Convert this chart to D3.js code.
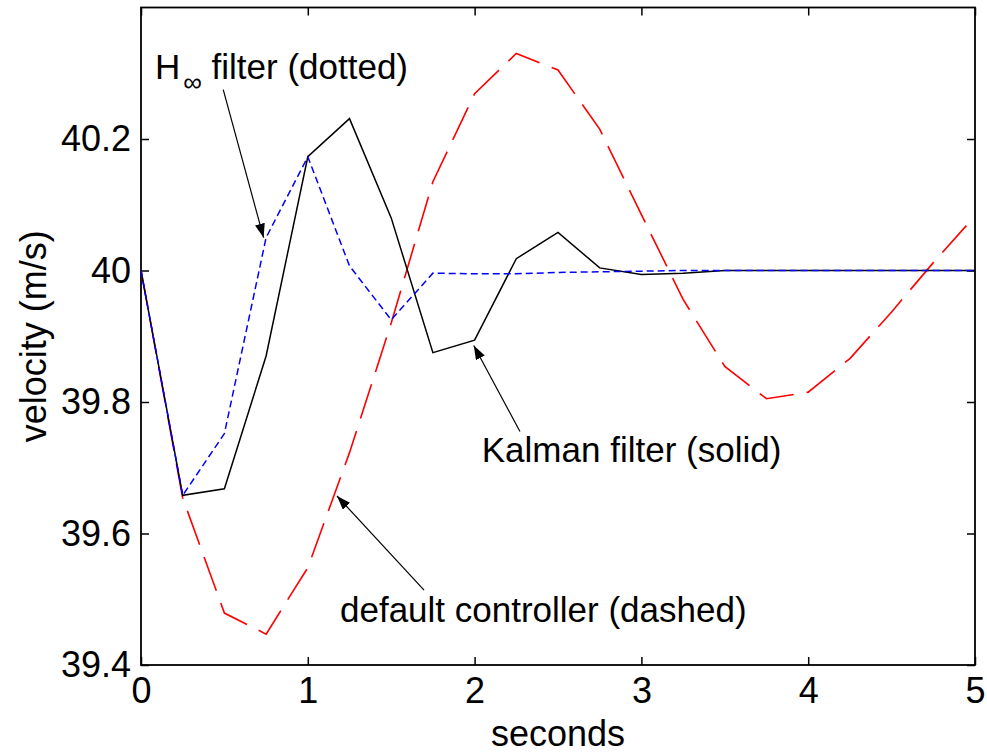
<!DOCTYPE html>
<html>
<head>
<meta charset="utf-8">
<script src="https://cdn.jsdelivr.net/npm/d3@7"></script>
<style>
  html, body { margin: 0; padding: 0; background: #fff; }
  svg { display: block; }
  text { font-family: "Liberation Sans", Arial, sans-serif; fill: #000; }
</style>
</head>
<body>
<svg id="chart" width="987" height="755"></svg>
<script>
// ---- data ----
const time = [0, 0.25, 0.5, 0.75, 1.0, 1.25, 1.5, 1.75, 2.0, 2.25, 2.5, 2.75, 3.0, 3.25, 3.5, 3.75, 4.0, 4.25, 4.5, 4.75, 5.0];
const kalman = [40.0, 39.658, 39.668, 39.87, 40.173, 40.231, 40.08, 39.875, 39.894, 40.018, 40.058, 40.004, 39.994, 39.996, 40.0, 40.0, 40.0, 40.0, 40.0, 40.0, 40.0];
const hinf = [40.0, 39.658, 39.752, 40.05, 40.173, 40.007, 39.925, 39.996, 39.995, 39.995, 39.997, 39.998, 39.999, 40.0, 40.0, 40.0, 40.0, 40.0, 40.0, 40.0, 40.0];
const controller = [40.0, 39.654, 39.479, 39.447, 39.548, 39.723, 39.92, 40.135, 40.269, 40.33, 40.305, 40.215, 40.085, 39.956, 39.854, 39.805, 39.815, 39.866, 39.937, 40.012, 40.083];
const xTicks = [0, 1, 2, 3, 4, 5];
const yTicks = [39.4, 39.6, 39.8, 40, 40.2];
const xDomain = [0, 5];
const yDomain = [39.4, 40.4];
const xTitle = "seconds";
const yTitle = "velocity (m/s)";
// annotations in data units: text anchor, arrow start, arrow tip
const labelHinf = {main: "H", sub: "\u221E", rest: " filter (dotted)", x: 0.084, y: 40.292};
const labelKalman = {text: "Kalman filter (solid)", x: 2.043, y: 39.708};
const labelCtrl = {text: "default controller (dashed)", x: 1.193, y: 39.465};
const arrows = [
  {x1: 0.493, y1: 40.275, x2: 0.735, y2: 40.05},
  {x1: 2.272, y1: 39.755, x2: 1.995, y2: 39.886},
  {x1: 1.697, y1: 39.514, x2: 1.175, y2: 39.657}
];

// ---- layout ----
const L = 141, R = 975, T = 7.5, B = 665;
const svg = d3.select("#chart");
const x = d3.scaleLinear().domain(xDomain).range([L, R]);
const y = d3.scaleLinear().domain(yDomain).range([B, T]);

svg.append("rect").attr("width", 987).attr("height", 755).attr("fill", "#fff");

const defs = svg.append("defs");
defs.append("clipPath").attr("id", "clip")
  .append("rect").attr("x", L).attr("y", T).attr("width", R - L).attr("height", B - T);
defs.append("marker").attr("id", "arrowhead")
  .attr("viewBox", "0 0 14 10").attr("refX", 14).attr("refY", 5)
  .attr("markerWidth", 14).attr("markerHeight", 10)
  .attr("markerUnits", "userSpaceOnUse").attr("orient", "auto")
  .append("path").attr("d", "M0,0 L14,5 L0,10 Z").attr("fill", "#000");

// axes with inward ticks on all four sides
const tickLen = 8;
const fontSize = 36;
const gx = svg.append("g").attr("transform", `translate(0,${B})`)
  .call(d3.axisBottom(x).tickValues(xTicks).tickFormat(d3.format("d")).tickSize(-tickLen).tickPadding(12));
const gxTop = svg.append("g").attr("transform", `translate(0,${T})`)
  .call(d3.axisTop(x).tickValues(xTicks).tickFormat("").tickSize(-tickLen));
const gy = svg.append("g").attr("transform", `translate(${L},0)`)
  .call(d3.axisLeft(y).tickValues(yTicks).tickFormat(d => String(+d.toFixed(1))).tickSize(-tickLen).tickPadding(10));
const gyRight = svg.append("g").attr("transform", `translate(${R},0)`)
  .call(d3.axisRight(y).tickValues(yTicks).tickFormat("").tickSize(-tickLen));

[gx, gxTop, gy, gyRight].forEach(g => {
  g.select(".domain").remove();
  g.selectAll(".tick line").attr("stroke", "#000").attr("stroke-width", 1.5);
  g.selectAll(".tick text").attr("font-size", fontSize).attr("font-family", "Liberation Sans, Arial, sans-serif").attr("fill", "#000");
});
gx.selectAll(".tick text").attr("dy", "0.71em");

// frame
svg.append("rect").attr("x", L).attr("y", T).attr("width", R - L).attr("height", B - T)
  .attr("fill", "none").attr("stroke", "#000").attr("stroke-width", 1.8);

// axis titles
svg.append("text").attr("x", (L + R) / 2).attr("y", 746).attr("text-anchor", "middle")
  .attr("font-size", 36).text(xTitle);
svg.append("text").attr("transform", `translate(46,${(T + B) / 2}) rotate(-90)`)
  .attr("text-anchor", "middle").attr("font-size", 36).text(yTitle);

// lines
const line = d3.line().x((d, i) => x(time[i])).y(d => y(d));
const plot = svg.append("g").attr("clip-path", "url(#clip)");
plot.append("path").datum(controller).attr("d", line)
  .attr("fill", "none").attr("stroke", "#ff0000").attr("stroke-width", 1.6)
  .attr("stroke-dasharray", "36,13");
plot.append("path").datum(kalman).attr("d", line)
  .attr("fill", "none").attr("stroke", "#000").attr("stroke-width", 1.5);
plot.append("path").datum(hinf).attr("d", line)
  .attr("fill", "none").attr("stroke", "#0000ff").attr("stroke-width", 1.5)
  .attr("stroke-dasharray", "7,4");

// annotation arrows
svg.selectAll(".arrow").data(arrows).join("line").attr("class", "arrow")
  .attr("x1", d => x(d.x1)).attr("y1", d => y(d.y1))
  .attr("x2", d => x(d.x2)).attr("y2", d => y(d.y2))
  .attr("stroke", "#000").attr("stroke-width", 1.2)
  .attr("marker-end", "url(#arrowhead)");

// annotation texts
const annSize = 35;
const th = svg.append("text").attr("x", x(labelHinf.x)).attr("y", y(labelHinf.y)).attr("font-size", annSize);
th.append("tspan").text(labelHinf.main);
th.append("tspan").attr("font-size", 26).attr("dx", 3).attr("dy", 12).text(labelHinf.sub);
th.append("tspan").attr("dy", -12).text(labelHinf.rest);

svg.append("text").attr("x", x(labelKalman.x)).attr("y", y(labelKalman.y))
  .attr("font-size", annSize).text(labelKalman.text);
svg.append("text").attr("x", x(labelCtrl.x)).attr("y", y(labelCtrl.y))
  .attr("font-size", annSize).text(labelCtrl.text);
</script>
</body>
</html>
